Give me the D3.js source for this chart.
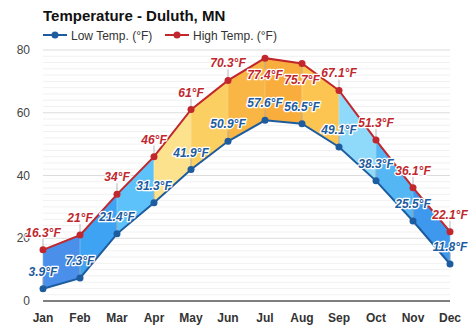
<!DOCTYPE html>
<html>
<head>
<meta charset="utf-8">
<script src="https://cdn.jsdelivr.net/npm/d3@7"></script>
<style>
  html, body { margin: 0; padding: 0; background: #fff; }
  svg { display: block; font-family: "Liberation Sans", Arial, sans-serif; }
</style>
</head>
<body>
<svg id="chart" width="474" height="331"></svg>
<script>
// Monthly normals for Duluth, MN (°F)
const months = ["Jan", "Feb", "Mar", "Apr", "May", "Jun", "Jul", "Aug", "Sep", "Oct", "Nov", "Dec"];
const lowTemps = [3.9, 7.3, 21.4, 31.3, 41.9, 50.9, 57.6, 56.5, 49.1, 38.3, 25.5, 11.8];
const highTemps = [16.3, 21, 34, 46, 61, 70.3, 77.4, 75.7, 67.1, 51.3, 36.1, 22.1];
const yTicks = [0, 20, 40, 60, 80];

// band colours between consecutive months, warm to cold
const bandColors = ["#4a8fe9", "#3ea3f2", "#5cc2f9", "#fde28e", "#fccf62", "#f9b645", "#f8ad3c",
                    "#fcc552", "#8fd9fa", "#55b6f4", "#3d98ee"];

const lowColor = "#1d5c9e";
const highColor = "#c1272d";

const svg = d3.select("#chart");
const x = d3.scalePoint().domain(months).range([43, 450]);
const y = d3.scaleLinear().domain([0, 80]).range([301, 50]);

// grid
const grid = svg.append("g");
grid.selectAll("line.minor")
  .data(d3.range(2, 82, 2).filter(v => v % 20 !== 0))
  .join("line")
  .attr("x1", 43).attr("x2", 450)
  .attr("y1", d => y(d)).attr("y2", d => y(d))
  .attr("stroke", "#f1f1f1").attr("stroke-width", 1);
grid.selectAll("line.major")
  .data(yTicks.filter(v => v > 0))
  .join("line")
  .attr("x1", 43).attr("x2", 450)
  .attr("y1", d => y(d)).attr("y2", d => y(d))
  .attr("stroke", "#dcdcdc").attr("stroke-width", 1);

// y tick labels
svg.append("g").selectAll("text")
  .data(yTicks)
  .join("text")
  .attr("x", 30).attr("y", d => y(d) + 4)
  .attr("text-anchor", "end")
  .attr("font-size", 12).attr("fill", "#444")
  .text(d => d);

// coloured bands between low and high
const bands = svg.append("g");
for (let i = 0; i < months.length - 1; i++) {
  const a = months[i], b = months[i + 1];
  const pts = [
    [x(a), y(highTemps[i])], [x(b), y(highTemps[i + 1])],
    [x(b), y(lowTemps[i + 1])], [x(a), y(lowTemps[i])]
  ];
  bands.append("path")
    .attr("d", "M" + pts.map(p => p.join(",")).join("L") + "Z")
    .attr("fill", bandColors[i])
    .attr("stroke", bandColors[i]).attr("stroke-width", 0.5);
}

// month dividers inside the band
svg.append("g").selectAll("line")
  .data(months)
  .join("line")
  .attr("x1", d => x(d)).attr("x2", d => x(d))
  .attr("y1", (d, i) => y(highTemps[i])).attr("y2", (d, i) => y(lowTemps[i]))
  .attr("stroke", "#ffffff").attr("stroke-opacity", 0.25).attr("stroke-width", 1);

// x axis baseline
svg.append("line")
  .attr("x1", 43).attr("x2", 450).attr("y1", y(0)).attr("y2", y(0))
  .attr("stroke", "#555").attr("stroke-width", 1.5);

svg.append("g").selectAll("text")
  .data(months)
  .join("text")
  .attr("x", d => x(d)).attr("y", 322)
  .attr("text-anchor", "middle")
  .attr("font-size", 12).attr("font-weight", "bold").attr("fill", "#333")
  .text(d => d);

// label placement: above the point, except where it would run off the top
const highBelow = new Set(["Jul", "Aug"]);
const labelY = (m, v, series) => {
  if (series === "high" && highBelow.has(m)) return y(v) + 17;
  return y(v) - 17;
};

// leader lines from points to labels
const leaders = svg.append("g");
months.forEach((m, i) => {
  [["high", highTemps[i]], ["low", lowTemps[i]]].forEach(([s, v]) => {
    const ly = labelY(m, v, s);
    const below = ly > y(v);
    leaders.append("line")
      .attr("x1", x(m)).attr("x2", x(m))
      .attr("y1", y(v)).attr("y2", below ? ly - 6 : ly + 6)
      .attr("stroke", "#999").attr("stroke-opacity", 0.7).attr("stroke-width", 1);
  });
});

// series lines and markers
const line = d3.line().x((d, i) => x(months[i])).y(d => y(d));
[[lowTemps, lowColor], [highTemps, highColor]].forEach(([vals, col]) => {
  svg.append("path")
    .attr("d", line(vals))
    .attr("fill", "none").attr("stroke", col).attr("stroke-width", 2);
  svg.append("g").selectAll("circle")
    .data(vals)
    .join("circle")
    .attr("cx", (d, i) => x(months[i])).attr("cy", d => y(d))
    .attr("r", 3.5).attr("fill", col);
});

// value labels with white halo
const fmt = v => v + "°F";
const labels = svg.append("g")
  .attr("font-size", 12).attr("font-weight", "bold").attr("font-style", "italic")
  .attr("text-anchor", "middle");
[["low", lowTemps, lowColor], ["high", highTemps, highColor]].forEach(([s, vals, col]) => {
  labels.selectAll("text." + s)
    .data(vals)
    .join("text")
    .attr("class", s)
    .attr("x", (d, i) => x(months[i]))
    .attr("y", (d, i) => labelY(months[i], d, s) + 4)
    .attr("fill", col)
    .attr("stroke", "#fff").attr("stroke-width", 2.5)
    .attr("paint-order", "stroke").attr("stroke-linejoin", "round")
    .text(fmt);
});

// title
svg.append("text")
  .attr("x", 43).attr("y", 21)
  .attr("font-size", 15).attr("font-weight", "bold").attr("fill", "#111")
  .text("Temperature - Duluth, MN");

// legend
const legend = svg.append("g");
[["Low Temp. (°F)", lowColor, 43], ["High Temp. (°F)", highColor, 165]].forEach(([t, col, lx]) => {
  legend.append("line")
    .attr("x1", lx).attr("x2", lx + 24).attr("y1", 35).attr("y2", 35)
    .attr("stroke", col).attr("stroke-width", 2);
  legend.append("circle")
    .attr("cx", lx + 12).attr("cy", 35).attr("r", 3.5).attr("fill", col);
  legend.append("text")
    .attr("x", lx + 28).attr("y", 39.5)
    .attr("font-size", 12).attr("fill", "#333")
    .text(t);
});
</script>
</body>
</html>
